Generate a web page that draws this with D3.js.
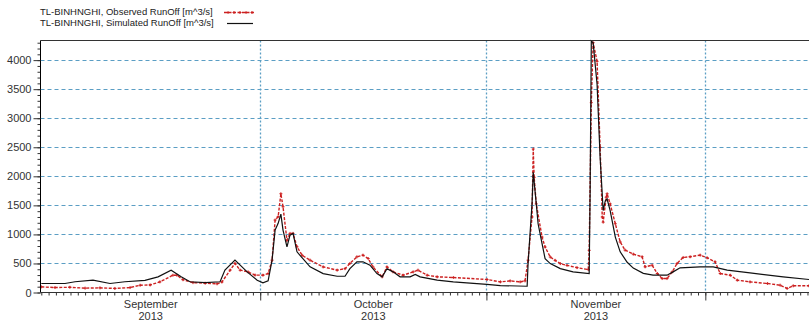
<!DOCTYPE html>
<html>
<head>
<meta charset="utf-8">
<script src="https://cdn.jsdelivr.net/npm/d3@7"></script>
<style>
  body { margin: 0; background: #fff; }
  svg { display: block; font-family: "Liberation Sans", Arial, sans-serif; }
</style>
</head>
<body>
<svg id="chart"></svg>
<script>
// Simulated runoff (black line)
const simTimes = ["2013-09-01 00","2013-09-04 06","2013-09-05 15","2013-09-08 02","2013-09-10 10","2013-09-12 11","2013-09-15 05","2013-09-17 00","2013-09-18 19","2013-09-20 04","2013-09-21 09","2013-09-23 11","2013-09-25 12","2013-09-26 04","2013-09-27 13","2013-09-29 05","2013-09-30 14","2013-10-01 09","2013-10-02 02","2013-10-02 15","2013-10-03 01","2013-10-03 11","2013-10-03 20","2013-10-04 03","2013-10-04 16","2013-10-05 02","2013-10-05 12","2013-10-06 01","2013-10-06 11","2013-10-07 20","2013-10-09 15","2013-10-11 13","2013-10-12 15","2013-10-13 07","2013-10-14 06","2013-10-15 02","2013-10-16 01","2013-10-17 00","2013-10-17 17","2013-10-18 09","2013-10-19 05","2013-10-20 04","2013-10-21 13","2013-10-22 06","2013-10-22 22","2013-10-25 06","2013-10-27 11","2013-11-01 02","2013-11-02 22","2013-11-06 14","2013-11-06 17","2013-11-07 06","2013-11-07 10","2013-11-07 20","2013-11-08 02","2013-11-08 15","2013-11-09 01","2013-11-09 18","2013-11-11 03","2013-11-12 21","2013-11-15 02","2013-11-15 05","2013-11-15 09","2013-11-15 15","2013-11-16 04","2013-11-16 14","2013-11-17 00","2013-11-17 07","2013-11-17 13","2013-11-17 23","2013-11-18 16","2013-11-19 08","2013-11-20 07","2013-11-21 03","2013-11-22 12","2013-11-23 20","2013-11-25 18","2013-11-26 14","2013-11-27 13","2013-11-30 07","2013-12-02 02","2013-12-04 00","2013-12-07 03","2013-12-11 16","2013-12-15 05"];
const simValues = [155,155,185,212,155,185,210,270,385,270,185,170,185,385,557,355,212,166,200,557,1074,1190,1350,1074,786,988,1017,700,640,441,326,280,280,410,528,528,470,326,270,410,355,270,270,310,270,212,183,140,120,108,497,1525,2070,1525,1183,840,583,497,411,354,326,1670,4330,4300,3580,2325,1411,1580,1610,1411,954,700,520,420,330,298,298,355,425,441,441,385,338,270,224];

// Observed runoff (red dashed line with markers)
const obsTimes = ["2013-09-01 00","2013-09-02 21","2013-09-04 22","2013-09-07 00","2013-09-09 01","2013-09-11 02","2013-09-13 04","2013-09-14 13","2013-09-15 22","2013-09-17 06","2013-09-19 01","2013-09-19 14","2013-09-20 10","2013-09-21 19","2013-09-23 11","2013-09-25 02","2013-09-25 18","2013-09-26 21","2013-09-27 13","2013-09-28 06","2013-09-29 08","2013-09-30 07","2013-10-01 09","2013-10-02 02","2013-10-02 15","2013-10-03 01","2013-10-03 11","2013-10-03 20","2013-10-04 03","2013-10-04 16","2013-10-05 02","2013-10-05 12","2013-10-06 01","2013-10-06 18","2013-10-07 20","2013-10-09 15","2013-10-11 13","2013-10-12 15","2013-10-13 07","2013-10-14 06","2013-10-15 02","2013-10-15 19","2013-10-16 11","2013-10-17 17","2013-10-18 09","2013-10-19 05","2013-10-20 14","2013-10-21 23","2013-10-22 15","2013-10-23 21","2013-10-25 06","2013-10-27 11","2013-11-01 02","2013-11-02 22","2013-11-04 06","2013-11-05 15","2013-11-06 07","2013-11-06 17","2013-11-07 06","2013-11-07 10","2013-11-07 13","2013-11-07 20","2013-11-08 15","2013-11-09 01","2013-11-09 18","2013-11-10 10","2013-11-11 03","2013-11-12 01","2013-11-13 10","2013-11-14 23","2013-11-15 02","2013-11-15 09","2013-11-15 15","2013-11-16 04","2013-11-16 14","2013-11-16 21","2013-11-17 00","2013-11-17 10","2013-11-17 13","2013-11-17 23","2013-11-18 16","2013-11-19 08","2013-11-20 00","2013-11-21 03","2013-11-22 08","2013-11-22 18","2013-11-23 17","2013-11-24 10","2013-11-25 02","2013-11-25 18","2013-11-26 11","2013-11-27 03","2013-11-27 23","2013-11-28 22","2013-11-30 07","2013-12-01 06","2013-12-02 08","2013-12-03 01","2013-12-04 10","2013-12-05 09","2013-12-07 03","2013-12-09 12","2013-12-11 06","2013-12-12 05","2013-12-13 01","2013-12-15 05"];
const obsValues = [97,85,90,75,80,70,85,125,130,183,298,298,220,170,160,150,180,385,500,385,355,300,298,326,557,1247,1305,1700,1476,900,1017,1017,786,640,557,441,385,410,500,614,643,585,440,270,440,355,298,355,385,298,270,258,224,183,200,183,200,557,1300,2470,1983,1525,954,783,611,554,497,468,428,394,726,3268,4300,3980,2497,1300,1211,1640,1700,1525,1183,870,730,660,615,442,470,327,240,240,355,500,603,615,643,597,528,327,298,212,183,155,126,70,115,115];

const yTicks = [0, 500, 1000, 1500, 2000, 2500, 3000, 3500, 4000];
const legendLabels = ["TL-BINHNGHI, Observed RunOff [m^3/s]", "TL-BINHNGHI, Simulated RunOff  [m^3/s]"];

const W = 809, H = 323;
const plot = {left: 40.5, right: 809, top: 40.5, bottom: 292.5};
const red = "#cc2020";
const gridColor = "#5b9ec4";

const parse = d3.timeParse("%Y-%m-%d %H");
const sim = simTimes.map((t, i) => ({t: parse(t), v: simValues[i]}));
const obs = obsTimes.map((t, i) => ({t: parse(t), v: obsValues[i]}));

const svg = d3.select("#chart").attr("width", W).attr("height", H);

const x = d3.scaleTime()
  .domain([parse("2013-09-01 00"), parse("2013-12-15 05")])
  .range([41.3, 809]);
const y = d3.scaleLinear()
  .domain([0, 4338])
  .range([plot.bottom, plot.top]);

// gridlines
svg.append("g")
  .selectAll("line")
  .data(yTicks.filter(d => d > 0))
  .join("line")
  .attr("x1", plot.left).attr("x2", plot.right)
  .attr("y1", d => Math.round(y(d)) + 0.5).attr("y2", d => Math.round(y(d)) + 0.5)
  .attr("stroke", gridColor).attr("stroke-dasharray", "4,3").attr("stroke-width", 1);

const monthStarts = d3.timeMonth.range(x.domain()[0], x.domain()[1]).filter(d => x(d) > plot.left + 2);
svg.append("g")
  .selectAll("line")
  .data(monthStarts)
  .join("line")
  .attr("x1", d => Math.round(x(d)) + 0.5).attr("x2", d => Math.round(x(d)) + 0.5)
  .attr("y1", plot.top).attr("y2", plot.bottom)
  .attr("stroke", gridColor).attr("stroke-dasharray", "2,2").attr("stroke-width", 1.3);

// series
const line = d3.line().x(d => x(d.t)).y(d => y(d.v));

svg.append("path")
  .datum(obs)
  .attr("d", line)
  .attr("fill", "none")
  .attr("stroke", red)
  .attr("stroke-width", 1.4)
  .attr("stroke-dasharray", "3,1.5");

svg.append("g")
  .selectAll("path")
  .data(obs)
  .join("path")
  .attr("d", d => `M${x(d.t) - 1.5},${y(d.v)}h3M${x(d.t)},${y(d.v) - 1.5}v3`)
  .attr("stroke", red)
  .attr("stroke-width", 1);

svg.append("path")
  .datum(sim)
  .attr("d", line)
  .attr("fill", "none")
  .attr("stroke", "#111")
  .attr("stroke-width", 1.2);

// frame: top border
svg.append("line")
  .attr("x1", plot.left).attr("x2", plot.right)
  .attr("y1", plot.top).attr("y2", plot.top)
  .attr("stroke", "#333");

// y axis
const yMinor = d3.range(0, 4301, 100);
const yAxis = svg.append("g").attr("transform", `translate(${plot.left},0)`);
yAxis.call(d3.axisLeft(y).tickValues(yMinor).tickSize(3).tickFormat(""));
yAxis.call(g => g.selectAll(".domain").remove());
const yMajor = svg.append("g").attr("transform", `translate(${plot.left},0)`)
  .call(d3.axisLeft(y).tickValues(yTicks).tickSize(7).tickPadding(2).tickFormat(d3.format("d")));
yMajor.select(".domain").attr("d", `M0,${plot.top}V${plot.bottom}`);
svg.selectAll("g .tick line").attr("stroke", "#333");
yMajor.selectAll("text").attr("font-size", 11).attr("fill", "#333").attr("font-family", "Liberation Sans, Arial, sans-serif");

// x axis: daily minor ticks, longer month ticks
const xAxisG = svg.append("g").attr("transform", `translate(0,${plot.bottom})`);
xAxisG.call(d3.axisBottom(x).ticks(d3.timeDay.every(1)).tickSize(3).tickFormat(""));
xAxisG.select(".domain").attr("d", `M${plot.left},0H${plot.right}`).attr("stroke", "#333");
const xMonth = svg.append("g").attr("transform", `translate(0,${plot.bottom})`)
  .call(d3.axisBottom(x).tickValues(monthStarts).tickSize(8).tickFormat(""));
xMonth.select(".domain").remove();
svg.selectAll(".tick line").attr("stroke", "#333");

// month labels centred within each month
const months = d3.timeMonth.range(d3.timeMonth.floor(x.domain()[0]), x.domain()[1]);
const labelData = months.map(m => ({m, c: new Date((+m + +d3.timeMonth.offset(m, 1)) / 2)}))
  .filter(d => x(d.c) < plot.right - 20);
const labels = svg.append("g").attr("font-size", 11).attr("fill", "#333").attr("text-anchor", "middle");
labels.selectAll("text.month").data(labelData).join("text").attr("class", "month")
  .attr("x", d => x(d.c)).attr("y", 308).text(d => d3.timeFormat("%B")(d.m));
labels.selectAll("text.year").data(labelData).join("text").attr("class", "year")
  .attr("x", d => x(d.c)).attr("y", 319.5).text(d => d3.timeFormat("%Y")(d.m));

// legend
const legend = svg.append("g").attr("font-size", 9.5).attr("fill", "#222");
legend.append("text").attr("x", 40).attr("y", 15).text(legendLabels[0]);
legend.append("text").attr("x", 40).attr("y", 25.5).text(legendLabels[1]);
legend.append("line").attr("x1", 224).attr("x2", 255).attr("y1", 12.5).attr("y2", 12.5)
  .attr("stroke", red).attr("stroke-width", 1.3).attr("stroke-dasharray", "3,1.5");
legend.selectAll("path.mk").data(d3.range(228, 255, 6)).join("path").attr("class", "mk")
  .attr("d", d => `M${d - 1.5},12.5h3M${d},11v3`).attr("stroke", red);
legend.append("line").attr("x1", 227).attr("x2", 253).attr("y1", 23.5).attr("y2", 23.5)
  .attr("stroke", "#111").attr("stroke-width", 1.2);
</script>
</body>
</html>
